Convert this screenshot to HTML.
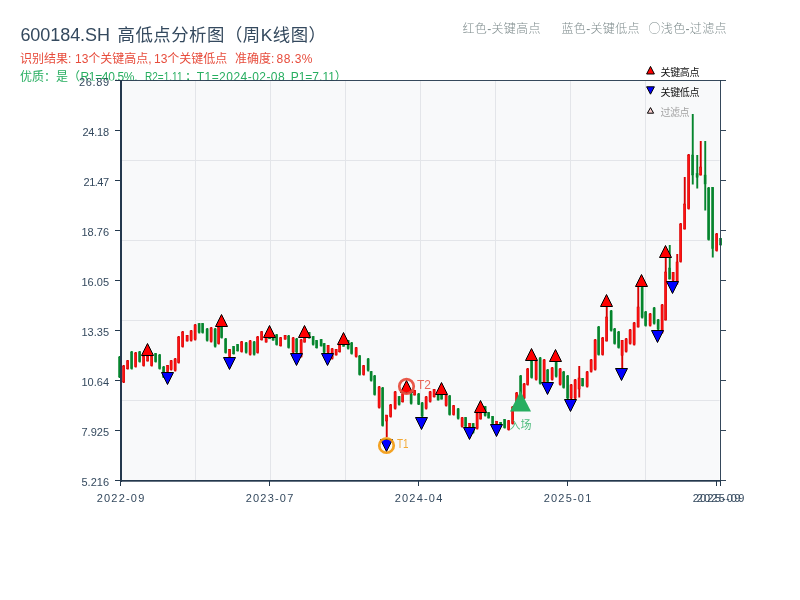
<!DOCTYPE html>
<html lang="zh-CN">
<head>
<meta charset="utf-8">
<title>600184.SH 高低点分析图（周K线图）</title>
<style>
html,body{margin:0;padding:0;background:#fff;}
body{width:800px;height:600px;overflow:hidden;}
svg{display:block;}
text{font-family:"Liberation Sans","Noto Sans CJK SC",sans-serif;}
.tk{font-size:11px;fill:#34495e;}
.r{fill:#ff1212;stroke:#cf0000;stroke-width:.5;}
.g{fill:#05852d;stroke:#05852d;stroke-width:.4;}
.rw{fill:#d80000;}
.gw{fill:#05852d;}
.up{fill:#ff0000;stroke:#000;stroke-width:1;}
.dn{fill:#0000ff;stroke:#000;stroke-width:1;}
</style>
</head>
<body>
<svg width="800" height="600" viewBox="0 0 800 600">
<rect x="0" y="0" width="800" height="600" fill="#ffffff"/>
<text y="41" fill="#34495e"><tspan x="20.4" font-size="18" textLength="89.6" lengthAdjust="spacing">600184.SH</tspan><tspan x="117.5" font-size="17.4" textLength="208.5" lengthAdjust="spacing">高低点分析图（周K线图）</tspan></text>
<text y="63" font-size="12" fill="#e74c3c"><tspan x="20">识别结果:</tspan><tspan x="75">13个关键高点,</tspan><tspan x="154">13个关键低点</tspan><tspan x="235">准确度:</tspan><tspan x="276.5" textLength="36" lengthAdjust="spacing">88.3%</tspan></text>
<defs><clipPath id="gc"><path d="M0 60H800V80.5H80V90H0Z"/></clipPath></defs>
<g clip-path="url(#gc)"><text y="80.5" font-size="12" fill="#27ae60"><tspan x="20">优质：是（</tspan><tspan x="80.5" textLength="57" lengthAdjust="spacing">R1=40.5%,</tspan><tspan x="145" textLength="37.5" lengthAdjust="spacingAndGlyphs">R2=1.11</tspan><tspan x="185">；</tspan><tspan x="196.7" textLength="88" lengthAdjust="spacing">T1=2024-02-08</tspan><tspan x="290.7">P1=7.11）</tspan></text></g>
<g font-size="12" fill="#7f8c8d" font-weight="300">
<text x="462.5" y="33" textLength="78" lengthAdjust="spacing">红色-关键高点</text>
<text x="561.5" y="33" textLength="78" lengthAdjust="spacing">蓝色-关键低点</text>
<text x="648.5" y="33" textLength="78" lengthAdjust="spacing"><tspan font-family="'Noto Sans CJK SC','WenQuanYi Zen Hei',sans-serif">○</tspan>浅色-过滤点</text>
</g>
<rect x="121" y="81" width="598.5" height="399" fill="#f8f9fa"/>
<g stroke="#e3e5e9" stroke-width="1">
<line x1="195.5" y1="81" x2="195.5" y2="480"/><line x1="270.5" y1="81" x2="270.5" y2="480"/><line x1="345.5" y1="81" x2="345.5" y2="480"/><line x1="420.5" y1="81" x2="420.5" y2="480"/><line x1="495.5" y1="81" x2="495.5" y2="480"/><line x1="570.5" y1="81" x2="570.5" y2="480"/><line x1="645.5" y1="81" x2="645.5" y2="480"/><line x1="122" y1="160.5" x2="719.5" y2="160.5"/><line x1="122" y1="240.5" x2="719.5" y2="240.5"/><line x1="122" y1="320.5" x2="719.5" y2="320.5"/><line x1="122" y1="400.5" x2="719.5" y2="400.5"/>
</g>
<g id="candles">
<rect class="gw" x="118.8" y="356.0" width="1.9" height="22.0"/><rect class="g" x="118.5" y="357.0" width="2.1" height="20.0"/>
<rect class="rw" x="122.8" y="365.0" width="1.9" height="18.0"/><rect class="r" x="122.5" y="366.0" width="2.1" height="16.0"/>
<rect class="rw" x="126.8" y="360.0" width="1.9" height="9.5"/><rect class="r" x="126.5" y="360.8" width="2.1" height="8.0"/>
<rect class="gw" x="130.8" y="351.0" width="1.9" height="18.5"/><rect class="g" x="130.5" y="352.0" width="2.1" height="16.5"/>
<rect class="rw" x="134.8" y="352.0" width="1.9" height="15.5"/><rect class="r" x="134.5" y="353.0" width="2.1" height="13.5"/>
<rect class="gw" x="138.8" y="351.0" width="1.9" height="11.5"/><rect class="g" x="138.5" y="351.9" width="2.1" height="9.7"/>
<rect class="rw" x="142.8" y="355.5" width="1.9" height="11.0"/><rect class="r" x="142.5" y="356.4" width="2.1" height="9.2"/>
<rect class="rw" x="146.8" y="355.5" width="1.9" height="6.0"/><rect class="r" x="146.5" y="356.0" width="2.1" height="5.0"/>
<rect class="rw" x="150.8" y="355.5" width="1.9" height="11.0"/><rect class="r" x="150.5" y="356.4" width="2.1" height="9.2"/>
<rect class="gw" x="154.8" y="353.0" width="1.9" height="9.5"/><rect class="g" x="154.5" y="353.8" width="2.1" height="8.0"/>
<rect class="gw" x="158.8" y="354.0" width="1.9" height="15.5"/><rect class="g" x="158.5" y="355.0" width="2.1" height="13.5"/>
<rect class="gw" x="162.8" y="366.0" width="1.9" height="12.0"/><rect class="g" x="162.5" y="367.0" width="2.1" height="10.1"/>
<rect class="rw" x="166.8" y="365.0" width="1.9" height="7.0"/><rect class="r" x="166.5" y="365.6" width="2.1" height="5.9"/>
<rect class="rw" x="170.3" y="360.0" width="1.9" height="10.5"/><rect class="r" x="170.0" y="360.8" width="2.1" height="8.8"/>
<rect class="rw" x="174.3" y="358.0" width="1.9" height="13.5"/><rect class="r" x="174.0" y="359.0" width="2.1" height="11.5"/>
<rect class="rw" x="177.8" y="336.0" width="1.9" height="27.5"/><rect class="r" x="177.5" y="337.0" width="2.1" height="25.5"/>
<rect class="rw" x="181.8" y="331.0" width="1.9" height="16.5"/><rect class="r" x="181.5" y="332.0" width="2.1" height="14.5"/>
<rect class="rw" x="186.3" y="335.0" width="1.9" height="6.5"/><rect class="r" x="186.0" y="335.5" width="2.1" height="5.5"/>
<rect class="rw" x="190.3" y="330.0" width="1.9" height="11.5"/><rect class="r" x="190.0" y="330.9" width="2.1" height="9.7"/>
<rect class="rw" x="194.3" y="324.0" width="1.9" height="16.5"/><rect class="r" x="194.0" y="325.0" width="2.1" height="14.5"/>
<rect class="gw" x="198.3" y="323.0" width="1.9" height="10.5"/><rect class="g" x="198.0" y="323.8" width="2.1" height="8.8"/>
<rect class="gw" x="201.8" y="323.0" width="1.9" height="10.5"/><rect class="g" x="201.5" y="323.8" width="2.1" height="8.8"/>
<rect class="gw" x="206.3" y="328.0" width="1.9" height="13.5"/><rect class="g" x="206.0" y="329.0" width="2.1" height="11.5"/>
<rect class="rw" x="210.3" y="327.0" width="1.9" height="15.5"/><rect class="r" x="210.0" y="328.0" width="2.1" height="13.5"/>
<rect class="gw" x="214.3" y="328.0" width="1.9" height="19.5"/><rect class="g" x="214.0" y="329.0" width="2.1" height="17.5"/>
<rect class="rw" x="217.8" y="326.5" width="1.9" height="18.0"/><rect class="r" x="217.5" y="327.5" width="2.1" height="16.0"/>
<rect class="gw" x="220.8" y="326.5" width="1.9" height="12.0"/><rect class="g" x="220.5" y="327.5" width="2.1" height="10.1"/>
<rect class="gw" x="224.8" y="338.0" width="1.9" height="15.5"/><rect class="g" x="224.5" y="339.0" width="2.1" height="13.5"/>
<rect class="rw" x="228.8" y="349.0" width="1.9" height="8.0"/><rect class="r" x="228.5" y="349.6" width="2.1" height="6.7"/>
<rect class="gw" x="232.8" y="346.0" width="1.9" height="8.5"/><rect class="g" x="232.5" y="346.7" width="2.1" height="7.1"/>
<rect class="gw" x="236.8" y="344.0" width="1.9" height="7.5"/><rect class="g" x="236.5" y="344.6" width="2.1" height="6.3"/>
<rect class="rw" x="240.8" y="341.0" width="1.9" height="11.5"/><rect class="r" x="240.5" y="341.9" width="2.1" height="9.7"/>
<rect class="gw" x="245.3" y="342.0" width="1.9" height="11.5"/><rect class="g" x="245.0" y="342.9" width="2.1" height="9.7"/>
<rect class="rw" x="249.3" y="340.0" width="1.9" height="15.5"/><rect class="r" x="249.0" y="341.0" width="2.1" height="13.5"/>
<rect class="gw" x="253.3" y="341.0" width="1.9" height="14.5"/><rect class="g" x="253.0" y="342.0" width="2.1" height="12.5"/>
<rect class="rw" x="256.8" y="336.0" width="1.9" height="17.5"/><rect class="r" x="256.5" y="337.0" width="2.1" height="15.5"/>
<rect class="rw" x="260.8" y="331.0" width="1.9" height="9.5"/><rect class="r" x="260.5" y="331.8" width="2.1" height="8.0"/>
<rect class="rw" x="265.3" y="337.5" width="1.9" height="5.0"/><rect class="r" x="265.0" y="337.9" width="2.1" height="4.2"/>
<rect class="gw" x="268.8" y="337.5" width="1.9" height="1.5"/><rect class="g" x="268.5" y="337.6" width="2.1" height="1.3"/>
<rect class="gw" x="272.3" y="337.5" width="1.9" height="3.0"/><rect class="g" x="272.0" y="337.7" width="2.1" height="2.5"/>
<rect class="gw" x="275.8" y="334.0" width="1.9" height="11.5"/><rect class="g" x="275.5" y="334.9" width="2.1" height="9.7"/>
<rect class="rw" x="279.8" y="337.0" width="1.9" height="9.5"/><rect class="r" x="279.5" y="337.8" width="2.1" height="8.0"/>
<rect class="rw" x="284.3" y="335.0" width="1.9" height="4.5"/><rect class="r" x="284.0" y="335.4" width="2.1" height="3.8"/>
<rect class="gw" x="287.8" y="335.0" width="1.9" height="13.5"/><rect class="g" x="287.5" y="336.0" width="2.1" height="11.5"/>
<rect class="rw" x="292.3" y="337.0" width="1.9" height="16.0"/><rect class="r" x="292.0" y="338.0" width="2.1" height="14.0"/>
<rect class="gw" x="295.8" y="338.0" width="1.9" height="15.0"/><rect class="g" x="295.5" y="339.0" width="2.1" height="13.0"/>
<rect class="rw" x="300.3" y="339.0" width="1.9" height="18.5"/><rect class="r" x="300.0" y="340.0" width="2.1" height="16.5"/>
<rect class="rw" x="303.8" y="337.5" width="1.9" height="5.0"/><rect class="r" x="303.5" y="337.9" width="2.1" height="4.2"/>
<rect class="gw" x="308.3" y="332.0" width="1.9" height="6.5"/><rect class="g" x="308.0" y="332.5" width="2.1" height="5.5"/>
<rect class="gw" x="312.3" y="336.0" width="1.9" height="9.5"/><rect class="g" x="312.0" y="336.8" width="2.1" height="8.0"/>
<rect class="gw" x="315.8" y="340.0" width="1.9" height="8.5"/><rect class="g" x="315.5" y="340.7" width="2.1" height="7.1"/>
<rect class="gw" x="320.3" y="339.0" width="1.9" height="7.5"/><rect class="g" x="320.0" y="339.6" width="2.1" height="6.3"/>
<rect class="gw" x="323.3" y="343.0" width="1.9" height="10.0"/><rect class="g" x="323.0" y="343.8" width="2.1" height="8.4"/>
<rect class="rw" x="327.3" y="345.0" width="1.9" height="8.0"/><rect class="r" x="327.0" y="345.6" width="2.1" height="6.7"/>
<rect class="rw" x="331.3" y="348.0" width="1.9" height="11.5"/><rect class="r" x="331.0" y="348.9" width="2.1" height="9.7"/>
<rect class="rw" x="335.3" y="349.0" width="1.9" height="6.5"/><rect class="r" x="335.0" y="349.5" width="2.1" height="5.5"/>
<rect class="rw" x="338.8" y="344.5" width="1.9" height="8.0"/><rect class="r" x="338.5" y="345.1" width="2.1" height="6.7"/>
<rect class="gw" x="342.8" y="344.5" width="1.9" height="2.0"/><rect class="g" x="342.5" y="344.7" width="2.1" height="1.7"/>
<rect class="gw" x="347.3" y="340.0" width="1.9" height="9.5"/><rect class="g" x="347.0" y="340.8" width="2.1" height="8.0"/>
<rect class="gw" x="350.8" y="342.0" width="1.9" height="12.5"/><rect class="g" x="350.5" y="343.0" width="2.1" height="10.5"/>
<rect class="rw" x="355.3" y="347.0" width="1.9" height="10.5"/><rect class="r" x="355.0" y="347.8" width="2.1" height="8.8"/>
<rect class="gw" x="358.8" y="355.0" width="1.9" height="20.5"/><rect class="g" x="358.5" y="356.0" width="2.1" height="18.5"/>
<rect class="rw" x="362.8" y="365.0" width="1.9" height="10.5"/><rect class="r" x="362.5" y="365.8" width="2.1" height="8.8"/>
<rect class="gw" x="367.3" y="358.0" width="1.9" height="13.5"/><rect class="g" x="367.0" y="359.0" width="2.1" height="11.5"/>
<rect class="gw" x="370.3" y="371.0" width="1.9" height="10.5"/><rect class="g" x="370.0" y="371.8" width="2.1" height="8.8"/>
<rect class="gw" x="373.8" y="375.0" width="1.9" height="20.5"/><rect class="g" x="373.5" y="376.0" width="2.1" height="18.5"/>
<rect class="rw" x="378.3" y="386.0" width="1.9" height="22.5"/><rect class="r" x="378.0" y="387.0" width="2.1" height="20.5"/>
<rect class="gw" x="381.8" y="387.0" width="1.9" height="39.5"/><rect class="g" x="381.5" y="388.0" width="2.1" height="37.5"/>
<rect class="rw" x="385.8" y="415.0" width="1.9" height="22.0"/><rect class="r" x="385.5" y="415.0" width="2.1" height="6.0"/>
<rect class="rw" x="389.8" y="404.0" width="1.9" height="13.5"/><rect class="r" x="389.5" y="405.0" width="2.1" height="11.5"/>
<rect class="rw" x="394.3" y="391.0" width="1.9" height="18.5"/><rect class="r" x="394.0" y="392.0" width="2.1" height="16.5"/>
<rect class="gw" x="398.3" y="396.0" width="1.9" height="9.5"/><rect class="g" x="398.0" y="396.8" width="2.1" height="8.0"/>
<rect class="rw" x="401.8" y="393.0" width="1.9" height="9.5"/><rect class="r" x="401.5" y="393.8" width="2.1" height="8.0"/>
<rect class="rw" x="405.8" y="388.0" width="1.9" height="6.0"/><rect class="r" x="405.5" y="388.5" width="2.1" height="5.0"/>
<rect class="gw" x="410.3" y="393.0" width="1.9" height="11.5"/><rect class="g" x="410.0" y="393.9" width="2.1" height="9.7"/>
<rect class="rw" x="413.8" y="390.0" width="1.9" height="5.5"/><rect class="r" x="413.5" y="390.4" width="2.1" height="4.6"/>
<rect class="gw" x="417.8" y="393.0" width="1.9" height="12.0"/><rect class="g" x="417.5" y="394.0" width="2.1" height="10.1"/>
<rect class="gw" x="421.3" y="402.0" width="1.9" height="15.0"/><rect class="g" x="421.0" y="403.0" width="2.1" height="13.0"/>
<rect class="rw" x="425.3" y="396.0" width="1.9" height="13.5"/><rect class="r" x="425.0" y="397.0" width="2.1" height="11.5"/>
<rect class="rw" x="429.3" y="391.0" width="1.9" height="11.5"/><rect class="r" x="429.0" y="391.9" width="2.1" height="9.7"/>
<rect class="rw" x="433.3" y="389.0" width="1.9" height="8.5"/><rect class="r" x="433.0" y="389.7" width="2.1" height="7.1"/>
<rect class="gw" x="437.3" y="394.5" width="1.9" height="6.0"/><rect class="g" x="437.0" y="395.0" width="2.1" height="5.0"/>
<rect class="gw" x="440.8" y="394.5" width="1.9" height="5.0"/><rect class="g" x="440.5" y="394.9" width="2.1" height="4.2"/>
<rect class="rw" x="445.3" y="394.5" width="1.9" height="12.0"/><rect class="r" x="445.0" y="395.5" width="2.1" height="10.1"/>
<rect class="gw" x="448.8" y="395.0" width="1.9" height="20.5"/><rect class="g" x="448.5" y="396.0" width="2.1" height="18.5"/>
<rect class="rw" x="452.8" y="405.0" width="1.9" height="10.5"/><rect class="r" x="452.5" y="405.8" width="2.1" height="8.8"/>
<rect class="gw" x="457.3" y="408.0" width="1.9" height="11.5"/><rect class="g" x="457.0" y="408.9" width="2.1" height="9.7"/>
<rect class="rw" x="461.3" y="417.0" width="1.9" height="10.5"/><rect class="r" x="461.0" y="417.8" width="2.1" height="8.8"/>
<rect class="gw" x="464.8" y="417.0" width="1.9" height="10.0"/><rect class="g" x="464.5" y="417.8" width="2.1" height="8.4"/>
<rect class="rw" x="468.8" y="423.0" width="1.9" height="4.0"/><rect class="r" x="468.5" y="423.3" width="2.1" height="3.4"/>
<rect class="gw" x="472.3" y="423.0" width="1.9" height="10.5"/><rect class="g" x="472.0" y="423.8" width="2.1" height="8.8"/>
<rect class="rw" x="476.3" y="412.5" width="1.9" height="17.0"/><rect class="r" x="476.0" y="413.5" width="2.1" height="15.0"/>
<rect class="rw" x="479.8" y="412.5" width="1.9" height="7.0"/><rect class="r" x="479.5" y="413.1" width="2.1" height="5.9"/>
<rect class="gw" x="484.3" y="406.0" width="1.9" height="10.5"/><rect class="g" x="484.0" y="406.8" width="2.1" height="8.8"/>
<rect class="gw" x="487.8" y="412.0" width="1.9" height="6.5"/><rect class="g" x="487.5" y="412.5" width="2.1" height="5.5"/>
<rect class="gw" x="491.8" y="416.0" width="1.9" height="8.0"/><rect class="g" x="491.5" y="416.6" width="2.1" height="6.7"/>
<rect class="rw" x="495.8" y="421.0" width="1.9" height="3.0"/><rect class="r" x="495.5" y="421.2" width="2.1" height="2.5"/>
<rect class="gw" x="499.8" y="422.0" width="1.9" height="4.0"/><rect class="g" x="499.5" y="422.3" width="2.1" height="3.4"/>
<rect class="gw" x="503.8" y="419.0" width="1.9" height="9.5"/><rect class="g" x="503.5" y="419.8" width="2.1" height="8.0"/>
<rect class="rw" x="507.8" y="420.0" width="1.9" height="10.5"/><rect class="r" x="507.5" y="420.8" width="2.1" height="8.8"/>
<rect class="rw" x="511.8" y="406.0" width="1.9" height="18.5"/><rect class="r" x="511.5" y="407.0" width="2.1" height="16.5"/>
<rect class="rw" x="515.8" y="392.0" width="1.9" height="19.0"/><rect class="r" x="515.5" y="393.0" width="2.1" height="17.0"/>
<rect class="gw" x="519.8" y="375.0" width="1.9" height="25.0"/><rect class="g" x="519.5" y="376.0" width="2.1" height="23.0"/>
<rect class="rw" x="523.3" y="383.0" width="1.9" height="16.0"/><rect class="r" x="523.0" y="384.0" width="2.1" height="14.0"/>
<rect class="rw" x="526.8" y="368.0" width="1.9" height="17.5"/><rect class="r" x="526.5" y="369.0" width="2.1" height="15.5"/>
<rect class="gw" x="530.8" y="360.5" width="1.9" height="18.0"/><rect class="g" x="530.5" y="361.5" width="2.1" height="16.0"/>
<rect class="rw" x="535.3" y="360.5" width="1.9" height="20.0"/><rect class="r" x="535.0" y="361.5" width="2.1" height="18.0"/>
<rect class="gw" x="539.3" y="357.0" width="1.9" height="27.5"/><rect class="g" x="539.0" y="358.0" width="2.1" height="25.5"/>
<rect class="rw" x="543.3" y="359.0" width="1.9" height="28.0"/><rect class="r" x="543.0" y="360.0" width="2.1" height="26.0"/>
<rect class="gw" x="546.8" y="369.0" width="1.9" height="13.5"/><rect class="g" x="546.5" y="370.0" width="2.1" height="11.5"/>
<rect class="rw" x="551.3" y="367.0" width="1.9" height="13.5"/><rect class="r" x="551.0" y="368.0" width="2.1" height="11.5"/>
<rect class="gw" x="555.3" y="361.5" width="1.9" height="16.0"/><rect class="g" x="555.0" y="362.5" width="2.1" height="14.0"/>
<rect class="rw" x="559.3" y="368.0" width="1.9" height="17.5"/><rect class="r" x="559.0" y="369.0" width="2.1" height="15.5"/>
<rect class="gw" x="562.8" y="371.0" width="1.9" height="17.5"/><rect class="g" x="562.5" y="372.0" width="2.1" height="15.5"/>
<rect class="gw" x="566.8" y="375.0" width="1.9" height="24.0"/><rect class="g" x="566.5" y="376.0" width="2.1" height="22.0"/>
<rect class="rw" x="570.3" y="384.0" width="1.9" height="15.0"/><rect class="r" x="570.0" y="385.0" width="2.1" height="13.0"/>
<rect class="rw" x="574.3" y="379.0" width="1.9" height="20.0"/><rect class="r" x="574.0" y="380.0" width="2.1" height="18.0"/>
<rect class="rw" x="578.3" y="366.0" width="1.9" height="31.5"/><rect class="r" x="578.0" y="378.0" width="2.1" height="11.0"/>
<rect class="gw" x="581.8" y="378.0" width="1.9" height="8.5"/><rect class="g" x="581.5" y="378.7" width="2.1" height="7.1"/>
<rect class="rw" x="586.3" y="371.0" width="1.9" height="16.5"/><rect class="r" x="586.0" y="372.0" width="2.1" height="14.5"/>
<rect class="rw" x="590.3" y="359.0" width="1.9" height="13.5"/><rect class="r" x="590.0" y="360.0" width="2.1" height="11.5"/>
<rect class="rw" x="594.3" y="339.0" width="1.9" height="31.5"/><rect class="r" x="594.0" y="340.0" width="2.1" height="29.5"/>
<rect class="gw" x="597.8" y="326.0" width="1.9" height="29.5"/><rect class="g" x="597.5" y="327.0" width="2.1" height="27.5"/>
<rect class="rw" x="601.8" y="337.0" width="1.9" height="18.5"/><rect class="r" x="601.5" y="338.0" width="2.1" height="16.5"/>
<rect class="rw" x="605.8" y="306.5" width="1.9" height="35.0"/><rect class="r" x="605.5" y="317.0" width="2.1" height="24.0"/>
<rect class="gw" x="610.3" y="310.0" width="1.9" height="21.5"/><rect class="g" x="610.0" y="311.0" width="2.1" height="19.5"/>
<rect class="gw" x="613.8" y="328.0" width="1.9" height="16.5"/><rect class="g" x="613.5" y="329.0" width="2.1" height="14.5"/>
<rect class="gw" x="617.8" y="331.0" width="1.9" height="17.5"/><rect class="g" x="617.5" y="332.0" width="2.1" height="15.5"/>
<rect class="rw" x="621.3" y="340.0" width="1.9" height="28.0"/><rect class="r" x="621.0" y="340.5" width="2.1" height="15.0"/>
<rect class="rw" x="625.3" y="338.0" width="1.9" height="14.5"/><rect class="r" x="625.0" y="339.0" width="2.1" height="12.5"/>
<rect class="rw" x="629.3" y="329.0" width="1.9" height="15.5"/><rect class="r" x="629.0" y="330.0" width="2.1" height="13.5"/>
<rect class="rw" x="633.3" y="322.0" width="1.9" height="23.5"/><rect class="r" x="633.0" y="323.0" width="2.1" height="21.5"/>
<rect class="rw" x="637.3" y="284.0" width="1.9" height="43.5"/><rect class="r" x="637.0" y="307.0" width="2.1" height="20.0"/>
<rect class="gw" x="641.3" y="286.5" width="1.9" height="32.0"/><rect class="g" x="641.0" y="287.5" width="2.1" height="30.0"/>
<rect class="gw" x="644.8" y="311.0" width="1.9" height="15.5"/><rect class="g" x="644.5" y="312.0" width="2.1" height="13.5"/>
<rect class="rw" x="649.3" y="313.0" width="1.9" height="13.5"/><rect class="r" x="649.0" y="314.0" width="2.1" height="11.5"/>
<rect class="gw" x="653.3" y="307.0" width="1.9" height="17.5"/><rect class="g" x="653.0" y="308.0" width="2.1" height="15.5"/>
<rect class="gw" x="657.3" y="319.0" width="1.9" height="11.0"/><rect class="g" x="657.0" y="319.9" width="2.1" height="9.2"/>
<rect class="rw" x="661.3" y="304.0" width="1.9" height="29.5"/><rect class="r" x="661.0" y="305.0" width="2.1" height="27.5"/>
<rect class="rw" x="664.8" y="257.5" width="1.9" height="63.0"/><rect class="r" x="664.5" y="272.0" width="2.1" height="48.0"/>
<rect class="gw" x="668.8" y="245.0" width="1.9" height="34.5"/><rect class="g" x="668.5" y="268.0" width="2.1" height="11.0"/>
<rect class="rw" x="672.3" y="272.0" width="1.9" height="9.0"/><rect class="r" x="672.0" y="272.7" width="2.1" height="7.6"/>
<rect class="rw" x="676.3" y="254.0" width="1.9" height="30.5"/><rect class="r" x="676.0" y="262.0" width="2.1" height="20.0"/>
<rect class="rw" x="679.8" y="223.0" width="1.9" height="39.5"/><rect class="r" x="679.5" y="224.0" width="2.1" height="37.5"/>
<rect class="rw" x="683.8" y="177.0" width="1.9" height="52.5"/><rect class="r" x="683.5" y="204.0" width="2.1" height="25.0"/>
<rect class="rw" x="687.8" y="154.0" width="1.9" height="55.5"/><rect class="r" x="687.5" y="155.0" width="2.1" height="53.5"/>
<rect class="gw" x="691.8" y="114.0" width="1.9" height="70.5"/><rect class="g" x="691.5" y="155.0" width="2.1" height="20.0"/>
<rect class="gw" x="696.3" y="155.0" width="1.9" height="33.5"/><rect class="g" x="696.0" y="173.5" width="2.1" height="4.0"/>
<rect class="rw" x="699.8" y="141.0" width="1.9" height="34.5"/><rect class="r" x="699.5" y="167.0" width="2.1" height="8.0"/>
<rect class="gw" x="704.3" y="141.0" width="1.9" height="69.5"/><rect class="g" x="704.0" y="175.0" width="2.1" height="9.0"/>
<rect class="gw" x="707.8" y="187.0" width="1.9" height="53.5"/><rect class="g" x="707.5" y="188.0" width="2.1" height="51.5"/>
<rect class="gw" x="711.8" y="187.0" width="1.9" height="70.5"/><rect class="g" x="711.5" y="187.5" width="2.1" height="61.0"/>
<rect class="rw" x="715.8" y="233.0" width="1.9" height="18.5"/><rect class="r" x="715.5" y="234.0" width="2.1" height="16.5"/>
<rect class="gw" x="719.8" y="238.0" width="1.9" height="7.5"/><rect class="g" x="719.5" y="238.6" width="2.1" height="6.3"/>
</g>
<g id="markers">
<path class="up" d="M147.5 343.5L153.5 355.5H141.5Z"/>
<path class="up" d="M221.5 314.5L227.5 326.5H215.5Z"/>
<path class="up" d="M269.5 325.5L275.5 337.5H263.5Z"/>
<path class="up" d="M304.5 325.5L310.5 337.5H298.5Z"/>
<path class="up" d="M343.5 332.5L349.5 344.5H337.5Z"/>
<path class="up" d="M406.5 380.5L412.5 392.5H400.5Z"/>
<path class="up" d="M441.5 382.5L447.5 394.5H435.5Z"/>
<path class="up" d="M480.5 400.5L486.5 412.5H474.5Z"/>
<path class="up" d="M531.5 348.5L537.5 360.5H525.5Z"/>
<path class="up" d="M555.5 349.5L561.5 361.5H549.5Z"/>
<path class="up" d="M606.5 294.5L612.5 306.5H600.5Z"/>
<path class="up" d="M641.5 274.5L647.5 286.5H635.5Z"/>
<path class="up" d="M665.5 245.5L671.5 257.5H659.5Z"/>
<path class="dn" d="M167.5 384.5L173.5 372.5H161.5Z"/>
<path class="dn" d="M229.5 369.5L235.5 357.5H223.5Z"/>
<path class="dn" d="M296.5 365.5L302.5 353.5H290.5Z"/>
<path class="dn" d="M327.5 365.5L333.5 353.5H321.5Z"/>
<path class="dn" d="M386.5 451.5L392.5 439.5H380.5Z"/>
<path class="dn" d="M421.5 429.5L427.5 417.5H415.5Z"/>
<path class="dn" d="M469.5 439.5L475.5 427.5H463.5Z"/>
<path class="dn" d="M496.5 436.5L502.5 424.5H490.5Z"/>
<path class="dn" d="M547.5 394.5L553.5 382.5H541.5Z"/>
<path class="dn" d="M570.5 411.5L576.5 399.5H564.5Z"/>
<path class="dn" d="M621.5 380.5L627.5 368.5H615.5Z"/>
<path class="dn" d="M657.5 342.5L663.5 330.5H651.5Z"/>
<path class="dn" d="M672.5 293.5L678.5 281.5H666.5Z"/>
<path d="M520.5 391L531 411.5H510Z" fill="#27ae60"/>
<circle cx="406.5" cy="386.3" r="7.25" fill="none" stroke="#e74c3c" stroke-width="2.7" opacity=".93"/>
<circle cx="386.5" cy="445.5" r="7.25" fill="none" stroke="#f39c12" stroke-width="2.7" opacity=".93"/>
<text x="417" y="388.8" font-size="12" fill="#e74c3c" opacity=".85">T2</text>
<text x="397" y="448" font-size="12" fill="#f39c12" opacity=".85" textLength="11.5" lengthAdjust="spacingAndGlyphs">T1</text>
<text x="509.5" y="429" font-size="11" fill="#27ae60" opacity=".8">入场</text>
</g>
<g fill="#24384d">
<rect x="120" y="80" width="2" height="402"/>
<rect x="120" y="480" width="601" height="1.7"/>
<rect x="120" y="80" width="606" height="1" opacity=".92"/>
<rect x="720" y="80" width="1" height="401" opacity=".92"/>
<rect x="115" y="80" width="5" height="1"/><rect x="115" y="130" width="5" height="1"/><rect x="721" y="130" width="5" height="1" opacity=".92"/><rect x="115" y="180" width="5" height="1"/><rect x="721" y="180" width="5" height="1" opacity=".92"/><rect x="115" y="230" width="5" height="1"/><rect x="721" y="230" width="5" height="1" opacity=".92"/><rect x="115" y="280" width="5" height="1"/><rect x="721" y="280" width="5" height="1" opacity=".92"/><rect x="115" y="330" width="5" height="1"/><rect x="721" y="330" width="5" height="1" opacity=".92"/><rect x="115" y="380" width="5" height="1"/><rect x="721" y="380" width="5" height="1" opacity=".92"/><rect x="115" y="430" width="5" height="1"/><rect x="721" y="430" width="5" height="1" opacity=".92"/><rect x="115" y="480" width="5" height="1"/><rect x="721" y="480" width="5" height="1" opacity=".92"/>
<rect x="120" y="481" width="1" height="5"/><rect x="269" y="481" width="1" height="5"/><rect x="418" y="481" width="1" height="5"/><rect x="567" y="481" width="1" height="5"/><rect x="716" y="481" width="1" height="5"/><rect x="720" y="481" width="1" height="5"/>
</g>
<g class="tk" text-anchor="end">
<text x="109" y="86.2" textLength="30" lengthAdjust="spacing">26.89</text><text x="109" y="136.2" textLength="26.6" lengthAdjust="spacing">24.18</text><text x="109" y="186.2" textLength="25.4" lengthAdjust="spacing">21.47</text><text x="109" y="236.2">18.76</text><text x="109" y="286.2">16.05</text><text x="109" y="336.2">13.35</text><text x="109" y="386.2">10.64</text><text x="109" y="436.2">7.925</text><text x="109" y="486.2">5.216</text>
</g>
<g class="tk" text-anchor="middle">
<text x="120.5" y="502" textLength="47.6" lengthAdjust="spacing">2022-09</text><text x="269.5" y="502" textLength="47.6" lengthAdjust="spacing">2023-07</text><text x="418.5" y="502" textLength="47.6" lengthAdjust="spacing">2024-04</text><text x="567.5" y="502" textLength="47.6" lengthAdjust="spacing">2025-01</text><text x="716.5" y="502" textLength="47.6" lengthAdjust="spacing">2025-09</text><text x="720.5" y="502" textLength="47.6" lengthAdjust="spacing">2025-09</text>
</g>
<g id="legend">
<path class="up" d="M650.5 66.4L654.4 74H646.6Z"/>
<path class="dn" d="M650.5 94.2L654.4 86.8H646.6Z"/>
<path d="M650.5 107.6L653.6 113.2H647.4Z" fill="#f9cfcf" stroke="#000" stroke-width="1"/>
<text x="660.5" y="76.3" font-size="10" fill="#111" textLength="39" lengthAdjust="spacing">关键高点</text>
<text x="660.5" y="96.3" font-size="10" fill="#111" textLength="39" lengthAdjust="spacing">关键低点</text>
<text x="660.5" y="116.3" font-size="10" fill="#a3a3a3" textLength="29" lengthAdjust="spacing">过滤点</text>
</g>
</svg>
</body>
</html>
